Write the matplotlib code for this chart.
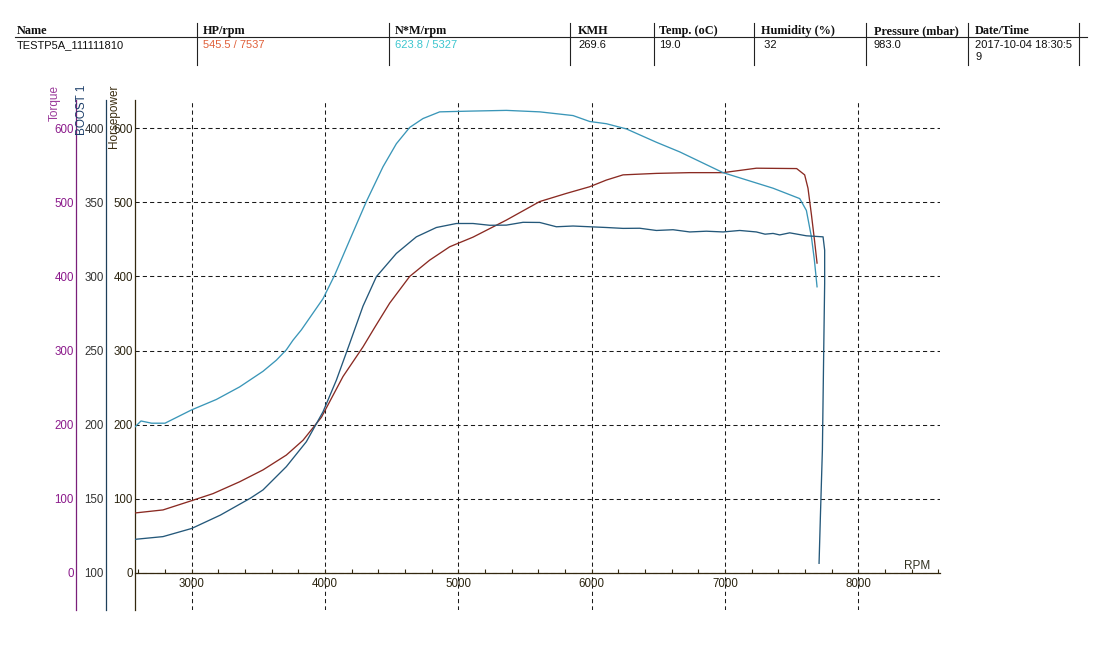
import matplotlib
matplotlib.use('Agg')
import matplotlib.pyplot as plt
from matplotlib.ticker import MultipleLocator, FixedLocator

# ---------------- data ----------------
header_labels = ["Name", "HP/rpm", "N*M/rpm", "KMH", "Temp. (oC)", "Humidity (%)",
                 "Pressure (mbar)", "Date/Time"]
header_values = ["TESTP5A_111111810", "545.5 / 7537", "623.8 / 5327", "269.6", "19.0",
                 " 32", "983.0", "2017-10-04 18:30:5\n9"]
header_value_colors = ["#111111", "#e0603a", "#3cc6cf", "#111111", "#111111",
                       "#111111", "#111111", "#111111"]

rpm_torque = [2575, 2620, 2700, 2800, 3000, 3185, 3360, 3535, 3635, 3710, 3760, 3823,
              3985, 4073, 4185, 4310, 4435, 4535, 4635, 4735, 4860, 5085, 5360, 5610,
              5860, 5985, 6110, 6260, 6485, 6660, 6985, 7360, 7560, 7610, 7648, 7670, 7690]
torque = [197, 205, 202, 202, 220, 234, 251, 272, 287, 301, 314, 328,
          370, 402, 449, 501, 548, 579, 601, 613, 622, 623, 624, 622,
          617, 609, 606, 599, 581, 568, 540, 519, 505, 489, 453, 422, 386]

rpm_hp = [2580, 2785, 3000, 3160, 3360, 3535, 3710, 3835, 3973, 4135, 4285, 4372,
          4485, 4635, 4785, 4935, 5110, 5360, 5610, 5810, 5985, 6110, 6235, 6485,
          6735, 6985, 7110, 7235, 7537, 7597, 7622, 7648, 7670, 7690]
horsepower = [81, 85, 97.5, 107, 123, 139, 159, 179, 210, 265, 305, 331,
              364, 400, 422, 440, 453, 476, 501, 512, 521, 530, 537, 539,
              540, 540, 543, 546, 545.5, 537, 519, 483, 450, 418]

rpm_boost = [2580, 2785, 3000, 3215, 3440, 3535, 3710, 3860, 3985, 4085, 4185, 4285,
             4385, 4535, 4685, 4835, 4985, 5110, 5235, 5360, 5485, 5610, 5735, 5860,
             5985, 6110, 6235, 6360, 6485, 6610, 6735, 6860, 6985, 7110, 7235, 7300,
             7360, 7410, 7485, 7610, 7735, 7747, 7747, 7740, 7730, 7715, 7705]
boost = [122.7, 124.5, 130, 139, 150.4, 156, 171.7, 188.5, 208.7, 230, 254.8, 280,
         299.8, 315.5, 326.7, 333, 335.7, 335.7, 334.5, 334.6, 336.5, 336.4, 333.5, 334,
         333.5, 333, 332.4, 332.5, 331, 331.5, 330, 330.5, 330, 331, 330, 328.5,
         329, 328, 329.4, 327.4, 326.7, 317.7, 295.3, 250, 183, 138, 106.5]

x_ticks = [3000, 4000, 5000, 6000, 7000, 8000]
hp_ticks = [0, 100, 200, 300, 400, 500, 600]
torque_ticks = [0, 100, 200, 300, 400, 500, 600]
boost_ticks = [100, 150, 200, 250, 300, 350, 400]

# ---------------- figure ----------------
W, H = 1097, 656
fig = plt.figure(figsize=(W / 100, H / 100), dpi=100)
fig.patch.set_facecolor('white')


def fx(px):
    return px / W


def fy(py):
    return 1 - py / H


# header table
header_x = [17, 203, 395, 578, 659, 761, 874, 975]
sep_x = [197, 389, 570, 654, 754, 866, 968, 1079]
for lab, val, col, x in zip(header_labels, header_values, header_value_colors, header_x):
    fig.text(fx(x), fy(34), lab, fontsize=8.8, fontweight='bold',
             family='Liberation Serif', ha='left', va='baseline', color='#111111')
    fig.text(fx(x), fy(40), val, fontsize=8, family='Liberation Sans',
             ha='left', va='top', color=col, linespacing=1.25)
fig.add_artist(plt.Line2D([fx(15), fx(1087)], [fy(37), fy(37)], color='#222222', lw=0.8))
for x in sep_x:
    fig.add_artist(plt.Line2D([fx(x), fx(x)], [fy(23), fy(65)], color='#222222', lw=0.8))

# main axes (horsepower)
L, R, T, B = 135, 940, 100, 610
ax = fig.add_axes([fx(L), fy(B), (R - L) / W, (B - T) / H])
ylo, yhi = -50, 638
ax.set_xlim(2575, 8612)
ax.set_ylim(ylo, yhi)

hp_col = '#8a2a22'
tq_col = '#3a96b8'
bo_col = '#24587a'
purple = '#8b1a8b'
axis_dark = '#33280f'

ax.spines['top'].set_visible(False)
ax.spines['right'].set_visible(False)
ax.spines['bottom'].set_position(('data', 0))
ax.spines['bottom'].set_color(axis_dark)
ax.spines['left'].set_color(axis_dark)
ax.spines['bottom'].set_linewidth(0.9)
ax.spines['left'].set_linewidth(0.9)

ax.xaxis.set_major_locator(FixedLocator(x_ticks))
ax.xaxis.set_minor_locator(MultipleLocator(200))
ax.yaxis.set_major_locator(FixedLocator(hp_ticks))
ax.tick_params(axis='x', which='both', direction='in', length=3, width=0.8,
               color=axis_dark, labelsize=8.3, labelcolor='#2b2410', pad=4)
ax.tick_params(axis='y', length=0, pad=1.5, labelsize=8.3, labelcolor='#2b2410')
for lab in ax.get_xticklabels() + ax.get_yticklabels():
    lab.set_family('Liberation Sans')

ax.grid(True, which='major', color='#1a1a1a', linestyle=(0, (4, 3)), linewidth=0.75)
ax.set_axisbelow(True)

ax.plot(rpm_hp, horsepower, color=hp_col, lw=0.95, zorder=3)

# torque axis
ax_t = ax.twinx()
ax_t.set_ylim(ylo, yhi)
ax_t.yaxis.set_major_locator(FixedLocator(torque_ticks))
ax_t.yaxis.set_ticks_position('left')
ax_t.yaxis.set_label_position('left')
ax_t.spines['left'].set_position(('axes', -(L - 76) / (R - L)))
ax_t.spines['left'].set_visible(True)
ax_t.spines['left'].set_color('#7a1f7a')
ax_t.spines['left'].set_linewidth(0.9)
for s in ['right', 'top', 'bottom']:
    ax_t.spines[s].set_visible(False)
ax_t.tick_params(axis='y', length=0, pad=1.5, labelsize=8.3, labelcolor=purple)
for lab in ax_t.get_yticklabels():
    lab.set_family('Liberation Sans')
ax_t.plot(rpm_torque, torque, color=tq_col, lw=0.95, zorder=3)

# boost axis
ax_b = ax.twinx()
ax_b.set_ylim(100 + ylo / 2, 100 + yhi / 2)
ax_b.yaxis.set_major_locator(FixedLocator(boost_ticks))
ax_b.yaxis.set_ticks_position('left')
ax_b.yaxis.set_label_position('left')
ax_b.spines['left'].set_position(('axes', -(L - 106) / (R - L)))
ax_b.spines['left'].set_visible(True)
ax_b.spines['left'].set_color('#1d3f5a')
ax_b.spines['left'].set_linewidth(0.9)
for s in ['right', 'top', 'bottom']:
    ax_b.spines[s].set_visible(False)
ax_b.tick_params(axis='y', length=0, pad=1.5, labelsize=8.3, labelcolor='#333333')
for lab in ax_b.get_yticklabels():
    lab.set_family('Liberation Sans')
ax_b.plot(rpm_boost, boost, color=bo_col, lw=0.95, zorder=3)

# axis titles
fig.text(fx(55), fy(85), "Torque", rotation=90, ha='center', va='top',
         fontsize=8.5, family='Liberation Sans', color='#9a3a9a')
fig.text(fx(82), fy(85), "BOOST 1", rotation=90, ha='center', va='top',
         fontsize=8.5, family='Liberation Sans', color='#1d3f6a')
fig.text(fx(114), fy(85), "Horsepower", rotation=90, ha='center', va='top',
         fontsize=8.5, family='Liberation Sans', color='#3a2c10')
fig.text(fx(917), fy(566), "RPM", ha='center', va='center',
         fontsize=8.5, family='Liberation Sans', color='#333322')

fig.savefig('out.png', dpi=100, facecolor='white')
